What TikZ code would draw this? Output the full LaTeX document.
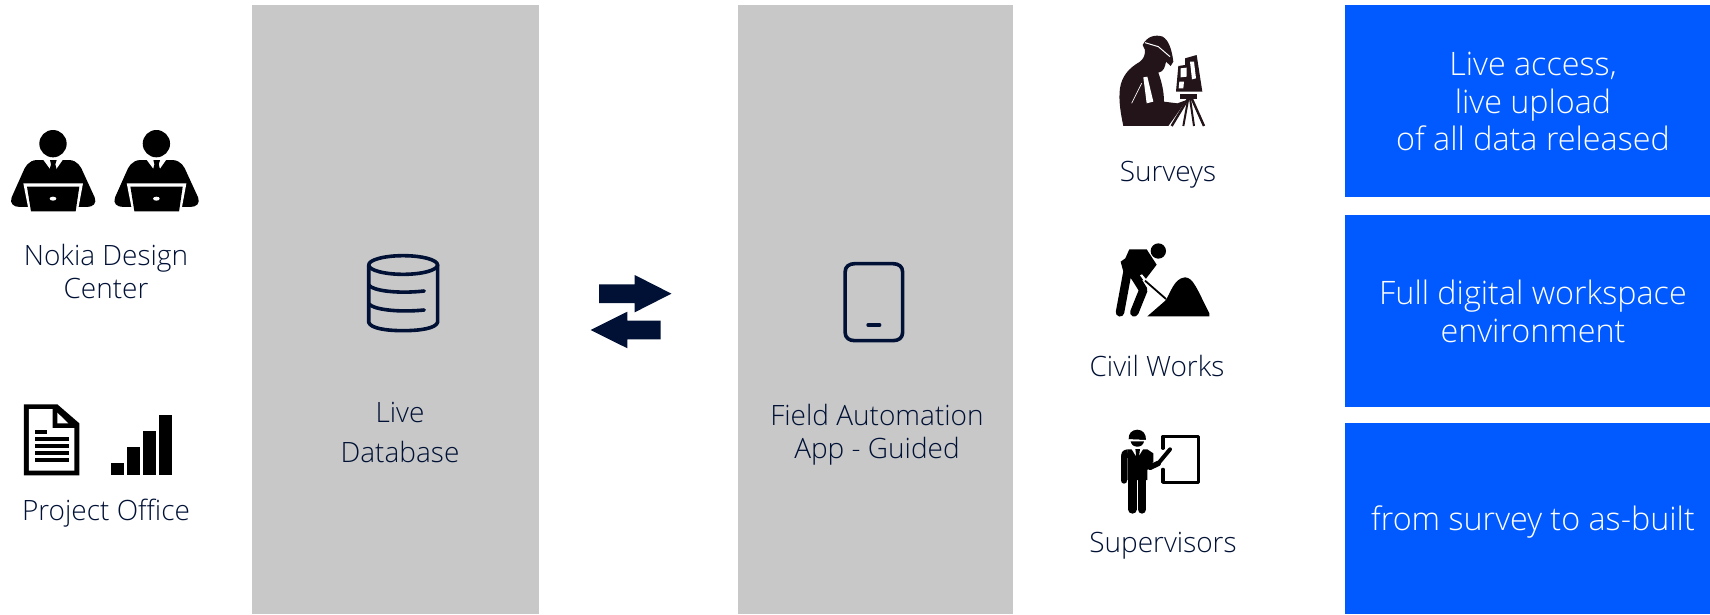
\documentclass[tikz,border=0pt]{standalone}
\usepackage{fontspec}
\setmainfont{Open Sans Light}
\definecolor{navy}{HTML}{001135}
\definecolor{nblue}{HTML}{005AFF}
\definecolor{pgray}{HTML}{C8C8C8}
\definecolor{sil}{HTML}{231419}
\tikzset{
 panel/.style={fill=pgray,draw=none},
 bluebox/.style={fill=nblue,draw=none},
 lbl/.style={text=navy,font=\fontsize{28}{32}\selectfont,anchor=base,inner sep=0pt},
 bluetxt/.style={text=white,font=\fontsize{32.3}{38}\selectfont,anchor=base,inner sep=0pt},
 line/.style={draw=navy,line width=3.6pt,line cap=round,line join=round}
}
\newcommand{\personicon}[1]{%
 \begin{scope}[shift={(#1,110)},scale=0.3333]
  \fill[black] (159,101) circle[radius=41];
  \fill[black] (110,150) .. controls (85,152) and (75,170) .. (68,188) -- (35,262)
    .. controls (28,280) and (40,291) .. (60,291) -- (260,291)
    .. controls (280,291) and (291,280) .. (284,262) -- (250,188)
    .. controls (243,170) and (233,152) .. (208,150) -- cycle;
  \fill[white] (128,147) -- (190,147) -- (160,190) -- cycle;
  \fill[black] (150,150) -- (170,150) -- (166,163) -- (172,186) -- (159,192) -- (147,186) -- (153,163) -- cycle;
  \fill[white] (70,220) -- (249,220) -- (233,306) -- (87,306) -- cycle;
  \fill[black] (81,230) -- (238,230) -- (227,304) -- (93,304) -- cycle;
  \fill[white] (159,266) ellipse[x radius=10,y radius=6];
 \end{scope}}
\begin{document}
\begin{tikzpicture}[x=1pt,y=-1pt]
\useasboundingbox (0,0) rectangle (1710,614);
\fill[white] (0,0) rectangle (1710,614);
% panels
\path[panel] (252,5) rectangle (539,614);
\path[panel] (738,5) rectangle (1013,614);
\path[bluebox] (1345,5) rectangle (1710,197);
\path[bluebox] (1345,215) rectangle (1710,407);
\path[bluebox] (1345,423) rectangle (1710,614);
% people
\personicon{0}
\personicon{103.4}
% document and bars
\begin{scope}[shift={(0,390)},scale=0.3333]
 \fill[black] (72,43) -- (172,43) -- (238,100) -- (238,256) -- (72,256) -- cycle;
 \fill[white] (87,57) -- (158,57) -- (158,114) -- (223,114) -- (223,242) -- (87,242) -- cycle;
 \fill[white] (172,68) -- (205,100) -- (172,100) -- cycle;
 \fill[black] (105,120) rectangle (141,131);
 \fill[black] (105,142) rectangle (207,153);
 \fill[black] (105,163) rectangle (207,174);
 \fill[black] (105,184) rectangle (207,195);
 \fill[black] (105,205) rectangle (207,216);
 \fill[black] (334,219) rectangle (372,256);
 \fill[black] (382,171) rectangle (420,256);
 \fill[black] (430,123) rectangle (468,256);
 \fill[black] (478,75) rectangle (516,256);
\end{scope}
% database and arrows and tablet
\begin{scope}[shift={(340,230)},xscale=0.3827,yscale=0.3333]
 \draw[line] (165,105) ellipse[x radius=90,y radius=28];
 \draw[line] (75,105) -- (75,277) .. controls (80,295) and (120,302) .. (165,302) .. controls (210,302) and (250,295) .. (255,277) -- (255,105);
 \draw[line] (75,165) .. controls (85,182) and (150,192) .. (220,183);
 \draw[line] (75,221) .. controls (85,238) and (150,248) .. (220,240);
 \fill[navy] (677,163) -- (770,163) -- (770,135) -- (866,191) -- (770,247) -- (770,219) -- (677,219) -- cycle;
 \fill[navy] (838,272) -- (751,272) -- (751,245) -- (655,300) -- (751,355) -- (751,328) -- (838,328) -- cycle;
 \draw[line] (1320,125) .. controls (1320,110) and (1330,101) .. (1345,101) -- (1445,101) .. controls (1460,101) and (1470,110) .. (1470,125) -- (1470,308) .. controls (1470,323) and (1460,332) .. (1445,332) -- (1345,332) .. controls (1330,332) and (1320,323) .. (1320,308) -- cycle;
 \draw[line] (1380,285) -- (1410,285);
\end{scope}
% surveyor
\begin{scope}[shift={(1090,20)},scale=0.3333]
 \fill[sil] (100,318) .. controls (92,280) and (85,240) .. (90,205) .. controls (95,170) and (115,145) .. (150,125)
   .. controls (162,115) and (165,105) .. (165,90) -- (158,75) .. controls (170,50) and (195,42) .. (218,50)
   .. controls (235,60) and (245,85) .. (250,125) -- (242,138) -- (228,125) .. controls (225,140) and (222,155) .. (205,158)
   .. controls (215,185) and (222,215) .. (222,245) -- (262,250) -- (290,240) -- (255,290) -- (235,318) -- cycle;
 \draw[white,line width=1pt] (165,68) -- (205,80) -- (240,110);
 \fill[white] (160,172) -- (172,170) -- (190,245) -- (170,250) -- cycle;
 \draw[white,line width=0.7pt] (125,250) -- (155,190);
 \fill[sil] (285,115) -- (320,105) -- (337,215) -- (258,215) -- (265,138) -- (285,135) -- cycle;
 \fill[white] (272,145) -- (290,143) -- (290,170) -- (272,172) -- cycle;
 \fill[white] (300,125) -- (312,125) -- (318,175) -- (306,178) -- cycle;
 \fill[white] (268,185) -- (282,185) -- (280,205) -- (266,205) -- cycle;
 \fill[sil] (270,222) rectangle (320,236);
 \draw[sil,line width=2.4pt] (295,235) -- (245,318);
 \draw[sil,line width=2pt] (295,235) -- (280,318);
 \draw[sil,line width=2pt] (300,235) -- (312,318);
 \draw[sil,line width=2.4pt] (305,235) -- (342,318);
\end{scope}
% civil worker
\begin{scope}[shift={(1090,230)},scale=0.3333]
 \fill[black] (205,63) circle[radius=23];
 \fill[black] (118,58) -- (170,58) -- (200,104) -- (165,150) -- (130,152) -- (100,125) -- (92,95) -- (106,85) -- cycle;
 \draw[black,line width=8.5pt,line cap=round,line join=round] (112,128) -- (90,247);
 \draw[black,line width=8.5pt,line cap=round,line join=round] (135,140) -- (160,180) -- (133,247);
 \fill[white] (150,136) -- (156,133) -- (172,152) -- (166,158) -- cycle;
 \draw[black,line width=1.8pt] (165,152) -- (228,207);
 \fill[black] (172,259) -- (226,212) .. controls (240,195) and (250,145) .. (285,142) .. controls (310,143) and (320,175) .. (358,250) -- (358,259) -- cycle;
\end{scope}
% supervisor
\begin{scope}[shift={(1090,420)},scale=0.3333]
 \fill[black] (116,58) .. controls (115,40) and (125,30) .. (142,29) .. controls (160,30) and (168,42) .. (168,60) -- cycle;
 \fill[white] (116,58) -- (168,60) -- (168,64) -- (116,62) -- cycle;
 \fill[black] (122,64) -- (162,64) .. controls (160,75) and (152,80) .. (142,80) .. controls (132,80) and (124,75) .. (122,64) -- cycle;
 \fill[black] (112,88) -- (172,88) -- (190,100) -- (190,125) -- (172,150) -- (172,180) -- (112,180) -- cycle;
 \fill[white] (124,86) -- (160,86) -- (142,115) -- cycle;
 \fill[black] (136,87) -- (150,87) -- (148,102) -- (152,128) -- (143,136) -- (134,128) -- (138,102) -- cycle;
 \draw[black,line width=6pt,line cap=round,line join=round] (103,108) -- (103,182);
 \fill[black] (94,105) .. controls (94,95) and (100,90) .. (112,88) -- (115,115) -- cycle;
 \draw[black,line width=8.7pt,line cap=round] (127,170) -- (127,268);
 \draw[black,line width=8.7pt,line cap=round] (156,170) -- (156,268);
 \draw[black,line width=5.5pt,line cap=round,line join=round] (180,142) -- (205,130);
 \draw[black,line width=4pt,line cap=round] (205,130) -- (240,88);
 \draw[black,line width=3.2pt,line join=round,line cap=round] (219,85) -- (219,49) -- (325,49) -- (325,187) -- (219,187) -- (219,148);
\end{scope}
% labels
\node[lbl] (nokia1) at (106,265) {Nokia Design};
\node[lbl] (nokia2) at (106,298) {Center};
\node[lbl] (po) at (106,520) {Project Office};
\node[lbl] (live) at (400,422) {Live};
\node[lbl] (db) at (400,462) {Database};
\node[lbl] (fa1) at (877,425) {Field Automation};
\node[lbl] (fa2) at (877,458) {App - Guided};
\node[lbl] (sur) at (1168,181) {Surveys};
\node[lbl] (civ) at (1157,376) {Civil Works};
\node[lbl] (sup) at (1163,552) {Supervisors};
\node[bluetxt] (b1) at (1533,75) {Live access,};
\node[bluetxt] (b2) at (1533,113) {live upload};
\node[bluetxt] (b3) at (1533,150.5) {of all data released};
\node[bluetxt] (b4) at (1533,304) {Full digital workspace};
\node[bluetxt] (b5) at (1533,342) {environment};
\node[bluetxt] (b6) at (1533,530) {from survey to as-built};
\end{tikzpicture}
\end{document}
